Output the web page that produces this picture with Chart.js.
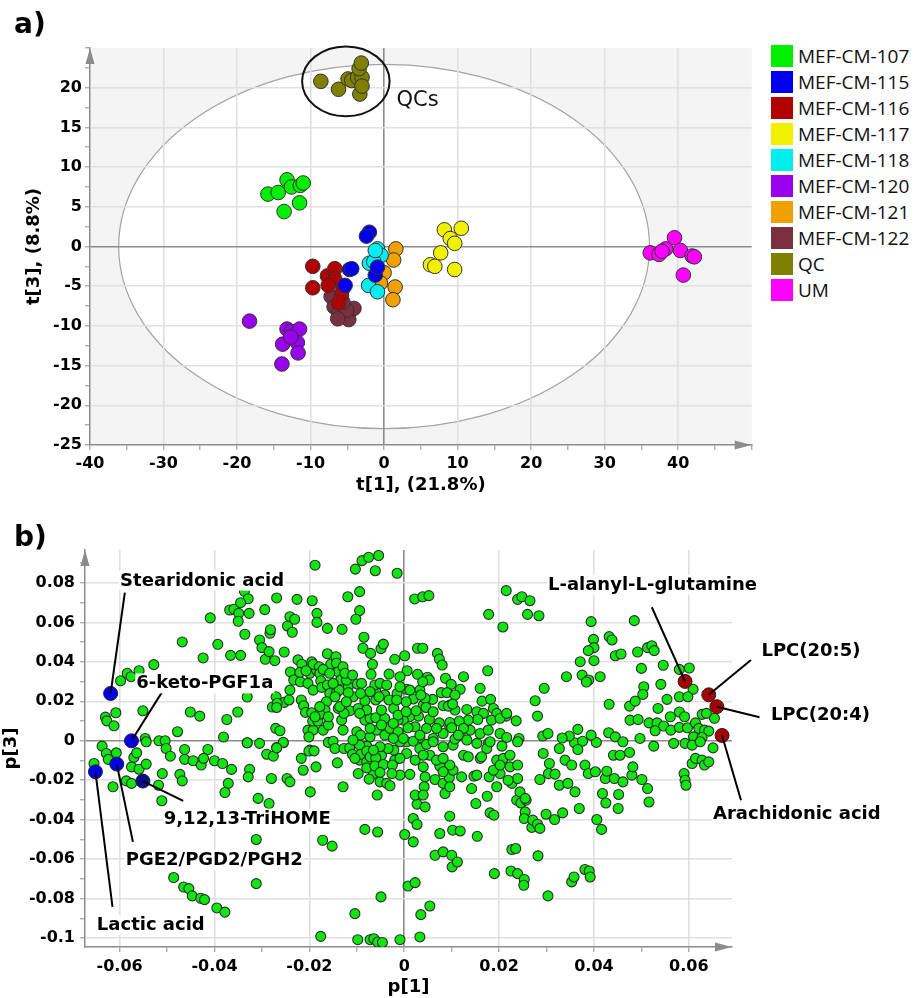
<!DOCTYPE html>
<html>
<head>
<meta charset="utf-8">
<title>PCA scores and loadings</title>
<script src="https://cdn.jsdelivr.net/npm/chart.js@4.4.1/dist/chart.umd.min.js"></script>
<style>
  body { margin: 0; background: #fff; }
  #page { position: relative; width: 917px; height: 998px; overflow: hidden; }
  canvas { position: absolute; left: 0; }
  #scores { top: 0; }
  #loadings { top: 500px; }
  .panel { position: absolute; left: 14px; font: bold 28px "DejaVu Sans"; line-height: 28px; }
  #legend { position: absolute; left: 771px; top: 45px; font: 19px "Open Sans"; color: #111; }
  #legend div { height: 26px; line-height: 22px; white-space: nowrap; }
  #legend span { display: inline-block; width: 22px; height: 22px; vertical-align: top; margin-right: 5px; }
</style>
</head>
<body>
<div id="page">
  <canvas id="scores" width="760" height="500"></canvas>
  <canvas id="loadings" width="917" height="498"></canvas>
  <div class="panel" style="top:10px">a)</div>
  <div class="panel" style="top:523px">b)</div>
  <div id="legend"></div>
</div>
<script>
// ---- a) scores t[1] / t[3] ----
const groupNames = ['MEF-CM-107', 'MEF-CM-115', 'MEF-CM-116', 'MEF-CM-117', 'MEF-CM-118',
                    'MEF-CM-120', 'MEF-CM-121', 'MEF-CM-122', 'QC', 'UM']
const groupColors = ['#00ee00', '#0000ee', '#b00000', '#f0f000', '#00eeee',
                     '#9900ee', '#f0a000', '#7b3040', '#808000', '#ff00ff']

const t107 = [[-15.8, 6.6], [-14.4, 6.8], [-13.2, 8.4], [-12.6, 7.5], [-11.4, 7.7], [-11.0, 8.0], [-11.5, 5.5], [-13.6, 4.4]]
const t115 = [[-2.0, 1.8], [-2.4, 1.3], [-4.7, -2.9], [-4.4, -2.8], [-5.3, -4.9], [-1.2, -3.6], [-0.9, -2.6]]
const t116 = [[-9.7, -2.5], [-9.7, -5.2], [-7.7, -3.7], [-6.7, -2.8], [-6.7, -4.1], [-5.6, -5.3], [-5.8, -6.1], [-6.2, -7.1], [-7.6, -4.9]]
const t117 = [[8.2, 2.1], [10.5, 2.3], [9.0, 1.0], [9.6, 0.4], [7.7, -0.8], [6.3, -2.3], [6.9, -2.5], [9.6, -2.9]]
const t118 = [[-0.9, -0.3], [-0.4, -1.1], [-2.0, -2.1], [-1.4, -1.9], [-2.1, -4.9], [-0.9, -5.7], [-1.2, -0.5]]
const t120 = [[-18.3, -9.4], [-13.2, -10.4], [-12.6, -10.7], [-11.5, -10.4], [-13.8, -12.3], [-11.8, -12.1], [-11.7, -13.4], [-13.9, -14.8], [-12.7, -11.4]]
const t121 = [[1.6, -0.3], [1.3, -1.7], [0.0, -3.3], [-0.5, -4.6], [1.5, -5.1], [1.2, -6.7]]
const t122 = [[-7.2, -6.3], [-6.8, -7.6], [-6.2, -8.4], [-4.8, -9.2], [-4.1, -7.8], [-5.1, -8.0], [-5.6, -7.0], [-6.3, -9.1]]
const tQC = [[-8.6, 20.8], [-6.2, 19.8], [-4.9, 21.1], [-4.4, 20.9], [-3.6, 21.3], [-3.0, 21.3], [-3.4, 22.4], [-3.1, 23.1], [-3.3, 19.2], [-3.0, 20.2]]
const tUM = [[36.2, -0.8], [37.4, -1.0], [38.3, -0.3], [39.5, 1.1], [40.3, -0.5], [41.9, -1.2], [42.2, -1.3], [40.7, -3.6], [37.8, -0.6]]
const scoreGroups = [t107, t115, t116, t117, t118, t120, t121, t122, tQC, tUM]

const hotellingRadius = [36.1, 22.95]   // T2 ellipse semi-axes (t1, t3)
const qcRingCenter = [-5.2, 20.8]
const qcRingRadius = [5.95, 4.4]

// ---- b) loadings p[1] / p[3] ----
const markerNames = ['Stearidonic acid', '6-keto-PGF1a', '9,12,13-TriHOME', 'PGE2/PGD2/PGH2', 'Lactic acid',
                     'L-alanyl-L-glutamine', 'LPC(20:5)', 'LPC(20:4)', 'Arachidonic acid']
const markerP1 = [-0.0619, -0.0575, -0.0551, -0.0606, -0.0651, 0.0592, 0.0642, 0.0659, 0.0670]
const markerP3 = [0.0240, 0.0000, -0.0204, -0.0118, -0.0157, 0.0301, 0.0233, 0.0173, 0.0027]
const markerColors = ['#0000ee', '#0000ee', '#0b0b8e', '#0000ee', '#0000ee', '#a80000', '#a80000', '#a80000', '#a80000']

const otherVariables = [
  [-0.0598,0.0304],[-0.0584,0.0342],[-0.0576,0.0325],[-0.0559,0.0355],[-0.0528,0.0386],
  [-0.0630,0.0120],[-0.0627,0.0101],[-0.0608,0.0142],[-0.0612,0.0076],[-0.0551,0.0152],
  [-0.0546,0.0012],[-0.0517,0.0000],[-0.0504,0.0000],[-0.0478,0.0046],[-0.0468,0.0501],
  [-0.0451,0.0146],[-0.0431,0.0125],[-0.0424,0.0420],[-0.0409,0.0623],[-0.0393,0.0489],
  [-0.0381,0.0019],[-0.0374,0.0108],[-0.0366,0.0433],[-0.0368,0.0663],[-0.0359,0.0667],
  [-0.0337,0.0758],[-0.0329,0.0720],[-0.0345,0.0700],[-0.0349,0.0646],[-0.0327,0.0646],
  [-0.0350,0.0606],[-0.0336,0.0540],[-0.0345,0.0433],[-0.0351,0.0146],[-0.0331,0.0222],
  [-0.0331,-0.0010],[-0.0305,0.0511],[-0.0300,0.0472],[-0.0294,0.0665],[-0.0293,0.0413],
  [-0.0283,0.0545],[-0.0282,0.0563],[-0.0285,0.0452],[-0.0273,0.0406],[-0.0269,0.0724],
  [-0.0270,0.0223],[-0.0278,0.0171],[-0.0253,0.0450],[-0.0253,0.0195],[-0.0246,0.0582],
  [-0.0241,0.0629],[-0.0231,0.0616],[-0.0236,0.0550],[-0.0226,0.0717],[-0.0240,0.0349],
  [-0.0233,0.0308],[-0.0241,0.0257],[-0.0243,0.0207],[-0.0224,0.0410],[-0.0216,0.0388],
  [-0.0219,0.0299],[-0.0217,0.0207],[-0.0212,0.0178],[-0.0208,0.0144],[-0.0188,0.0890],
  [-0.0194,0.0710],[-0.0184,0.0646],[-0.0184,0.0600],[-0.0195,0.0400],[-0.0199,0.0342],
  [-0.0185,0.0359],[-0.0203,0.0291],[-0.0192,0.0257],[-0.0162,0.0570],[-0.0162,0.0441],
  [-0.0131,0.0565],[-0.0119,0.0730],[-0.0103,0.0870],[-0.0089,0.0913],[-0.0075,0.0930],
  [-0.0054,0.0939],[-0.0061,0.0862],[-0.0015,0.0849],[-0.0094,0.0756],[-0.0094,0.0660],
  [-0.0102,0.0616],[-0.0085,0.0525],[-0.0087,0.0469],[-0.0071,0.0443],[-0.0049,0.0467],
  [-0.0044,0.0490],[-0.0067,0.0388],[-0.0070,0.0337],[-0.0020,0.0413],[-0.0032,0.0338],
  [0.0001,0.0431],[0.0006,0.0355],[0.0022,0.0719],[0.0039,0.0730],[0.0052,0.0736],
  [0.0028,0.0469],[0.0039,0.0469],[0.0070,0.0443],[0.0074,0.0414],[0.0080,0.0384],
  [0.0028,0.0337],[0.0049,0.0322],[0.0087,0.0317],
  [0.0215,0.0761],[0.0239,0.0717],[0.0248,0.0730],[0.0265,0.0710],[0.0178,0.0641],
  [0.0208,0.0577],[0.0260,0.0641],[0.0284,0.0634],[0.0394,0.0604],[0.0485,0.0609],
  [0.0399,0.0514],[0.0400,0.0472],[0.0388,0.0457],[0.0432,0.0528],[0.0438,0.0511],
  [0.0445,0.0431],[0.0457,0.0440],[0.0371,0.0401],[0.0400,0.0406],[0.0492,0.0450],
  [0.0513,0.0472],[0.0522,0.0482],[0.0527,0.0457],[0.0342,0.0325],[0.0375,0.0333],
  [0.0389,0.0308],[0.0384,0.0298],[0.0413,0.0325],[0.0500,0.0367],[0.0546,0.0383],
  [0.0580,0.0362],[0.0601,0.0369],[0.0505,0.0274],[0.0503,0.0235],[0.0541,0.0286],
  [0.0609,0.0261],[0.0295,0.0266],[0.0276,0.0203],[0.0281,0.0125],[0.0432,0.0185],
  [0.0475,0.0176],[0.0487,0.0201],[0.0535,0.0164],[0.0554,0.0210],[0.0580,0.0223],
  [0.0598,0.0223],[0.0580,0.0146],[0.0591,0.0122],[0.0561,0.0122],[0.0628,0.0134],
  [0.0637,0.0139],[0.0654,0.0114],[0.0476,0.0105],[0.0493,0.0108],[0.0516,0.0091],
  [0.0533,0.0091],[0.0529,0.0051],[0.0547,0.0075],[0.0562,0.0054],[0.0580,0.0068],
  [0.0597,0.0066],[0.0614,0.0091],[0.0621,0.0063],[0.0633,0.0054],[0.0642,0.0049],
  [0.0610,0.0020],[0.0628,0.0017],[0.0592,-0.0013],[0.0568,-0.0013],[0.0607,-0.0022],
  [0.0624,-0.0005],[0.0359,-0.0010],[0.0376,-0.0002],[0.0405,-0.0008],
  [0.0431,0.0041],[0.0445,0.0020],[0.0461,-0.0005],[0.0497,0.0012],[0.0366,0.0058],
  [0.0394,0.0029],[0.0348,0.0024],[0.0333,0.0014],[0.0292,0.0024],[0.0303,0.0037],
  [0.0242,0.0012],[0.0236,0.0101],
  [0.0053,0.0308],[0.0099,0.0286],[0.0125,0.0325],[0.0118,0.0261],[0.0160,0.0266],
  [0.0176,0.0355],[0.0164,0.0201],[0.0182,0.0210],[0.0078,0.0244],[0.0060,0.0210],
  [0.0019,0.0212],[0.0004,0.0198],[0.0005,0.0261],[0.0033,0.0257],[0.0040,0.0181],
  [0.0082,0.0178],[0.0096,0.0181],[0.0107,0.0156],[0.0132,0.0159],[0.0153,0.0147],
  [0.0167,0.0139],[0.0188,0.0164],[0.0195,0.0139],[0.0215,0.0125],[0.0184,0.0105],
  [0.0155,0.0108],[0.0135,0.0105],[0.0116,0.0100],[0.0096,0.0071],[0.0074,0.0091],
  [0.0053,0.0108],[0.0030,0.0125],[0.0011,0.0122],[-0.0002,0.0105],[0.0023,0.0071],
  [0.0047,0.0063],[0.0082,0.0037],[0.0118,0.0029],[0.0139,0.0054],[0.0160,0.0037],
  [0.0177,0.0054],[0.0202,0.0037],[0.0216,0.0017],[0.0033,0.0017],[0.0061,0.0012],
  [0.0005,-0.0005],[0.0177,-0.0013],
  [-0.0009,-0.0174],[0.0012,-0.0170],[0.0044,-0.0183],[0.0042,-0.0233],[0.0005,-0.0064],
  [0.0023,-0.0098],[0.0040,-0.0132],[0.0054,-0.0073],[0.0065,-0.0196],[0.0075,-0.0128],
  [0.0082,-0.0216],[0.0086,-0.0267],[0.0095,-0.0186],[0.0096,-0.0233],[0.0103,-0.0149],
  [0.0121,-0.0183],[0.0125,-0.0073],[0.0142,-0.0242],[0.0147,-0.0179],[0.0151,-0.0318],
  [0.0154,-0.0484],[0.0160,-0.0089],[0.0174,-0.0039],[0.0175,-0.0281],[0.0179,-0.0183],
  [0.0181,-0.0365],[0.0189,-0.0377],[0.0195,-0.0233],[0.0190,-0.0673],[0.0202,-0.0166],
  [0.0206,-0.0027],[0.0223,-0.0132],[0.0227,-0.0216],[0.0227,-0.0551],[0.0235,-0.0546],
  [0.0225,-0.0660],[0.0239,-0.0673],[0.0253,-0.0703],[0.0252,-0.0732],[0.0237,-0.0301],
  [0.0246,-0.0315],[0.0257,-0.0301],[0.0255,-0.0360],[0.0253,-0.0394],[0.0269,-0.0439],
  [0.0271,-0.0402],[0.0281,-0.0423],[0.0286,-0.0444],[0.0282,-0.0583],[0.0239,-0.0123],
  [0.0239,-0.0191],[0.0286,-0.0196],[0.0293,-0.0064],[0.0304,-0.0166],[0.0306,-0.0115],
  [0.0299,-0.0372],[0.0317,-0.0399],[0.0334,-0.0365],[0.0303,-0.0786],[0.0318,-0.0169],
  [0.0327,-0.0039],[0.0327,-0.0225],[0.0339,-0.0098],[0.0345,-0.0216],[0.0353,-0.0123],
  [0.0360,-0.0259],[0.0366,-0.0044],[0.0369,-0.0343],[0.0353,-0.0715],[0.0358,-0.0690],
  [0.0381,-0.0123],[0.0388,-0.0166],[0.0381,-0.0652],[0.0390,-0.0660],[0.0392,-0.0690],
  [0.0406,-0.0399],[0.0416,-0.0449],[0.0403,-0.0157],[0.0418,-0.0267],[0.0425,-0.0315],
  [0.0424,-0.0191],[0.0427,-0.0154],[0.0441,-0.0073],[0.0443,-0.0191],[0.0452,-0.0272],
  [0.0451,-0.0343],[0.0461,-0.0208],[0.0455,-0.0073],[0.0475,-0.0059],[0.0480,-0.0174],
  [0.0482,-0.0132],[0.0501,-0.0196],[0.0513,-0.0242],[0.0516,-0.0310],[0.0526,-0.0027],
  [0.0590,-0.0166],[0.0592,-0.0200],[0.0594,-0.0225],[0.0607,-0.0115],[0.0614,-0.0089],
  [0.0628,-0.0098],[0.0633,-0.0123],[0.0642,-0.0107],[0.0651,-0.0036],
  [0.0019,-0.0394],[0.0027,-0.0424],[0.0001,-0.0475],[0.0019,-0.0512],[0.0027,-0.0321],
  [0.0044,-0.0335],[0.0075,-0.0470],[0.0096,-0.0382],[0.0102,-0.0453],[0.0118,-0.0457],
  [0.0065,-0.0580],[0.0082,-0.0563],[0.0100,-0.0580],[0.0101,-0.0639],[0.0112,-0.0614],
  [0.0008,-0.0736],[0.0023,-0.0719],[0.0054,-0.0837],[0.0035,-0.0881],[0.0033,-0.0994],
  [-0.0637,-0.0027],[-0.0628,-0.0064],[-0.0624,-0.0094],[-0.0607,-0.0061],[-0.0654,-0.0115],
  [-0.0614,-0.0233],[-0.0586,-0.0203],[-0.0575,-0.0216],[-0.0570,-0.0084],[-0.0564,-0.0061],
  [-0.0575,-0.0132],[-0.0559,-0.0144],[-0.0544,-0.0118],[-0.0544,-0.0005],[-0.0510,-0.0166],
  [-0.0511,-0.0304],[-0.0518,-0.0225],[-0.0502,-0.0039],[-0.0493,-0.0078],[-0.0473,-0.0170],
  [-0.0468,-0.0203],[-0.0463,-0.0044],[-0.0463,-0.0094],[-0.0445,-0.0101],[-0.0428,-0.0123],
  [-0.0414,-0.0044],[-0.0423,-0.0089],[-0.0400,-0.0101],[-0.0383,-0.0115],[-0.0364,-0.0145],
  [-0.0371,-0.0216],[-0.0378,-0.0262],[-0.0331,-0.0010],[-0.0305,-0.0013],[-0.0326,-0.0145],
  [-0.0329,-0.0183],[-0.0308,-0.0292],[-0.0290,-0.0068],[-0.0276,-0.0078],[-0.0280,-0.0191],
  [-0.0285,-0.0318],[-0.0269,-0.0034],[-0.0255,-0.0010],[-0.0247,-0.0191],[-0.0241,-0.0208],
  [-0.0312,-0.0500],[-0.0312,-0.0724],[-0.0486,-0.0693],[-0.0465,-0.0741],[-0.0454,-0.0749],
  [-0.0447,-0.0786],[-0.0429,-0.0798],[-0.0421,-0.0805],[-0.0395,-0.0847],[-0.0378,-0.0868],
  [-0.0217,-0.0089],[-0.0213,-0.0149],[-0.0199,-0.0047],[-0.0186,-0.0132],[-0.0198,-0.0259],
  [-0.0172,-0.0504],[-0.0152,-0.0534],[-0.0176,-0.0991],[-0.0141,-0.0112],[-0.0129,-0.0233],
  [-0.0097,-0.0166],[-0.0083,-0.0449],[-0.0056,-0.0462],[-0.0057,-0.0275],[-0.0049,-0.0791],
  [-0.0104,-0.0876],[-0.0098,-0.1008],[-0.0072,-0.1008],[-0.0064,-0.1003],[-0.0056,-0.1020],
  [-0.0046,-0.1022],[-0.0009,-0.1008],
  [-0.0094,-0.0098],[-0.0065,-0.0166],[-0.0051,-0.0208],[-0.0020,-0.0098],[-0.0048,-0.0073],
  [-0.0079,-0.0027],
  [-0.0271,0.0063],[-0.0262,0.0051],[-0.0255,-0.0008],[-0.0269,-0.0036],[-0.0201,-0.0052],
  [-0.0190,-0.0051],[-0.0160,-0.0008],[-0.0150,-0.0002],[-0.0146,-0.0039],[-0.0127,-0.0039],
  [-0.0115,-0.0036],[-0.0109,-0.0069],[-0.0094,-0.0022],[-0.0092,-0.0069],[-0.0079,-0.0052],
  [-0.0079,-0.0107],[-0.0072,-0.0081],[-0.0079,-0.0137],[-0.0060,-0.0086],[-0.0062,-0.0128],
  [-0.0044,-0.0120],[-0.0051,-0.0160],[-0.0025,-0.0123],[-0.0026,-0.0166],[-0.0037,-0.0216],
  [-0.0030,-0.0228],[-0.0074,-0.0194],[-0.0129,0.0054],[-0.0100,0.0046],[-0.0092,0.0029],
  [-0.0072,0.0020],[-0.0108,0.0004],[-0.0058,0.0054],[-0.0041,0.0029],[-0.0030,0.0063],
  [-0.0013,0.0046],[-0.0009,-0.0005],[-0.0022,-0.0047],[-0.0009,-0.0089],[-0.0034,-0.0039],
  [-0.0051,-0.0030],[-0.0083,0.0105],[-0.0072,0.0114],[-0.0060,0.0117],[-0.0041,0.0114],
  [-0.0013,0.0105],[-0.0203,0.0054],[-0.0192,0.0054],[-0.0171,0.0054],[-0.0193,0.0100],
  [-0.0182,0.0100],[-0.0160,0.0080],[-0.0132,0.0105],
  [-0.0192,0.0388],[-0.0179,0.0375],[-0.0155,0.0388],[-0.0144,0.0426],[-0.0143,0.0393],
  [-0.0139,0.0350],[-0.0220,0.0347],[-0.0207,0.0355],[-0.0178,0.0342],[-0.0171,0.0362],
  [-0.0157,0.0342],[-0.0176,0.0304],[-0.0174,0.0271],[-0.0162,0.0283],[-0.0157,0.0240],
  [-0.0143,0.0244],[-0.0134,0.0308],[-0.0137,0.0257],[-0.0118,0.0274],[-0.0108,0.0223],
  [-0.0099,0.0288],[-0.0115,0.0152],[-0.0097,0.0164],[-0.0083,0.0203],[-0.0079,0.0156],
  [-0.0060,0.0207],[-0.0060,0.0249],[-0.0048,0.0156],[-0.0041,0.0232],[-0.0032,0.0207],
  [-0.0022,0.0164],[-0.0015,0.0240],[-0.0013,0.0130],[-0.0164,0.0198],[-0.0167,0.0156],
  [-0.0146,0.0223],[-0.0139,0.0164],[-0.0127,0.0139],[-0.0195,0.0142],[-0.0178,0.0135],
  [-0.0268,0.0190],[-0.0269,0.0169],
  [0.0039,0.0299],[0.0044,0.0215],[0.0035,0.0232],[0.0090,0.0244],[0.0107,0.0232],
  [0.0093,0.0176],[0.0102,0.0186],[0.0004,0.0147],[0.0025,0.0152],[0.0046,0.0169],
  [0.0061,0.0147],
  [0.0096,0.0093],[0.0202,0.0114],[0.0008,0.0066],[0.0068,0.0063],[0.0100,0.0066],
  [0.0125,0.0063],[-0.0002,0.0012],[0.0019,-0.0002],[0.0033,-0.0039],[0.0047,-0.0018],
  [0.0061,-0.0005],[0.0082,-0.0030],[0.0103,-0.0022],[0.0107,0.0009],[0.0132,0.0004],
  [0.0153,-0.0013],[0.0040,-0.0073],[0.0068,-0.0098],[0.0096,-0.0123],[0.0135,-0.0081],
  [0.0195,-0.0098],[0.0209,-0.0089],[0.0223,-0.0073],[0.0082,-0.0157],[0.0188,-0.0149],
  [0.0219,-0.0200],[0.0023,-0.0275],[0.0040,-0.0275],[0.0244,-0.0259],
  [-0.0122,0.0308],[-0.0129,0.0375],[-0.0118,0.0244],[-0.0136,0.0173],[-0.0092,0.0240],
  [-0.0094,0.0139],[-0.0062,0.0283],[-0.0053,0.0223],[-0.0016,0.0207],[0.0012,0.0257],
  [-0.0023,0.0088],[-0.0178,0.0173],[-0.0188,0.0122],[-0.0160,0.0122],[-0.0201,0.0020],
  [0.0082,-0.0089],[0.0163,-0.0081],[0.0033,0.0029],[0.0114,0.0029],[0.0153,-0.0174],
  [0.0202,-0.0123],[0.0255,-0.0292],[0.0181,-0.0005],[0.0239,-0.0005],
  [-0.0072,0.0063],[-0.0048,0.0080],[-0.0023,0.0012],[-0.0104,-0.0089],[-0.0065,-0.0047],
  [-0.0122,0.0198],[-0.0072,0.0249],[-0.0150,0.0291],[-0.0125,0.0342],[-0.0109,0.0333],
  [-0.0090,0.0291],[-0.0051,0.0291],[-0.0037,0.0283],[-0.0009,0.0325],[-0.0009,0.0274],
  [0.0216,0.0139]
]

// where each marker label sits (text left / vertical centre) and where its leader line starts, in p1/p3 units
const markerLabelLayout = [
  { text: [-0.0599, 0.0820], line: [-0.0589, 0.0751] },
  { text: [-0.0565, 0.0299], line: [-0.0508, 0.0257] },
  { text: [-0.0507, -0.0386], line: [-0.0466, -0.0304] },
  { text: [-0.0587, -0.0597], line: [-0.0572, -0.0512] },
  { text: [-0.0648, -0.0926], line: [-0.0615, -0.0842] },
  { text: [0.0303, 0.0799], line: [0.0522, 0.0677] },
  { text: [0.0753, 0.0465], line: [0.0731, 0.0409] },
  { text: [0.0773, 0.0139], line: [0.0749, 0.0119] },
  { text: [0.0651, -0.0363], line: [0.0710, -0.0301] }
]

const tickFont = { family: 'DejaVu Sans', size: 16, weight: 'bold' }
const titleFont = { family: 'DejaVu Sans', size: 18, weight: 'bold' }
const axisGrey = '#8c8c8c'
const gridGrey = '#e0e0e0'

function toPoints(pairs) {
    return pairs.map(p => ({ x: p[0], y: p[1] }))
}

function drawArrows(chart) {
    var ctx = chart.ctx
    var a = chart.chartArea
    ctx.save()
    ctx.fillStyle = axisGrey
    ctx.beginPath()
    ctx.moveTo(a.left, a.top)
    ctx.lineTo(a.left - 4.5, a.top + 16)
    ctx.lineTo(a.left + 4.5, a.top + 16)
    ctx.closePath()
    ctx.fill()
    ctx.beginPath()
    ctx.moveTo(a.right, a.bottom)
    ctx.lineTo(a.right - 17, a.bottom - 4.5)
    ctx.lineTo(a.right - 17, a.bottom + 4.5)
    ctx.closePath()
    ctx.fill()
    ctx.restore()
}

// legend for a)
var legend = document.getElementById('legend')
for (var i = 0; i < groupNames.length; i++) {
    var row = document.createElement('div')
    var box = document.createElement('span')
    box.style.background = groupColors[i]
    row.append(box)
    row.append(groupNames[i])
    legend.append(row)
}

const scoresDecor = {
    id: 'scoresDecor',
    beforeDraw(chart) {
        var ctx = chart.ctx
        var a = chart.chartArea
        var x = chart.scales.x, y = chart.scales.y
        ctx.save()
        ctx.fillStyle = '#f4f4f4'
        ctx.fillRect(a.left, a.top, a.right - a.left, a.bottom - a.top)
        ctx.beginPath()
        ctx.rect(a.left, a.top, a.right - a.left, a.bottom - a.top)
        ctx.clip()
        var cx = x.getPixelForValue(0), cy = y.getPixelForValue(0)
        ctx.beginPath()
        ctx.ellipse(cx, cy, x.getPixelForValue(hotellingRadius[0]) - cx, cy - y.getPixelForValue(hotellingRadius[1]), 0, 0, Math.PI * 2)
        ctx.fillStyle = '#fff'
        ctx.fill()
        ctx.strokeStyle = '#a4a4a4'
        ctx.lineWidth = 1.2
        ctx.stroke()
        ctx.restore()
    },
    afterDatasetsDraw(chart) {
        var ctx = chart.ctx
        var x = chart.scales.x, y = chart.scales.y
        var cx = x.getPixelForValue(qcRingCenter[0]), cy = y.getPixelForValue(qcRingCenter[1])
        ctx.save()
        ctx.beginPath()
        ctx.ellipse(cx, cy, x.getPixelForValue(qcRingCenter[0] + qcRingRadius[0]) - cx,
                    cy - y.getPixelForValue(qcRingCenter[1] + qcRingRadius[1]), 0, 0, Math.PI * 2)
        ctx.strokeStyle = '#111'
        ctx.lineWidth = 2
        ctx.stroke()
        ctx.fillStyle = '#111'
        ctx.font = '21px "DejaVu Sans"'
        ctx.fillText('QCs', x.getPixelForValue(1.7), y.getPixelForValue(18.65) + 7.7)
        ctx.restore()
    },
    afterDraw: drawArrows
}

const loadingsDecor = {
    id: 'loadingsDecor',
    afterDatasetsDraw(chart) {
        var ctx = chart.ctx
        var x = chart.scales.x, y = chart.scales.y
        ctx.save()
        ctx.strokeStyle = '#000'
        ctx.lineWidth = 2
        for (var i = 0; i < markerNames.length; i++) {
            var l = markerLabelLayout[i]
            ctx.beginPath()
            ctx.moveTo(x.getPixelForValue(l.line[0]), y.getPixelForValue(l.line[1]))
            ctx.lineTo(x.getPixelForValue(markerP1[i]), y.getPixelForValue(markerP3[i]))
            ctx.stroke()
        }
        ctx.font = 'bold 18px "DejaVu Sans"'
        for (var i = 0; i < markerNames.length; i++) {
            var l = markerLabelLayout[i]
            var tx = x.getPixelForValue(l.text[0])
            var base = y.getPixelForValue(l.text[1]) + 6.6
            var w = ctx.measureText(markerNames[i]).width
            ctx.fillStyle = '#fff'
            ctx.fillRect(tx - 1, base - 15, w + 2, 20)
            ctx.fillStyle = '#000'
            ctx.fillText(markerNames[i], tx, base)
        }
        ctx.restore()
    },
    afterDraw: drawArrows
}

function isEdge(v, lo, hi) {
    return Math.abs(v - lo) < 1e-9 || Math.abs(v - hi) < 1e-9
}

// a) scores chart
new Chart(document.getElementById('scores'), {
    type: 'scatter',
    data: {
        datasets: scoreGroups.map((g, i) => ({
            label: groupNames[i],
            data: toPoints(g),
            backgroundColor: groupColors[i],
            borderColor: '#333',
            borderWidth: 1,
            pointRadius: 7.3,
            pointHoverRadius: 7.3
        }))
    },
    options: {
        responsive: false,
        animation: false,
        devicePixelRatio: 1,
        events: [],
        layout: { padding: { left: 0, top: 48, right: 3, bottom: 0 } },
        plugins: { legend: { display: false }, tooltip: { enabled: false } },
        scales: {
            x: {
                type: 'linear', min: -40, max: 50,
                afterFit: s => { s.height = 55 },
                ticks: {
                    stepSize: 5, autoSkip: false, maxRotation: 0, padding: 4, color: '#000', font: tickFont,
                    callback: v => (v % 10 === 0 && v < 50) ? String(v) : ''
                },
                grid: {
                    color: c => c.tick.value === 0 ? axisGrey : (c.tick.value % 10 === 0 && !isEdge(c.tick.value, -40, 50) ? gridGrey : 'rgba(0,0,0,0)'),
                    lineWidth: 1.6, tickColor: axisGrey, tickLength: 5, tickWidth: 1
                },
                border: { color: axisGrey, width: 1.5 },
                title: { display: true, text: 't[1], (21.8%)', color: '#000', font: titleFont, padding: { top: 0, bottom: 4 } }
            },
            y: {
                type: 'linear', min: -25, max: 25,
                afterFit: s => { s.width = 90 },
                ticks: {
                    stepSize: 2.5, autoSkip: false, padding: 3, color: '#000', font: tickFont,
                    callback: v => (v % 5 === 0 && v < 25) ? String(v) : ''
                },
                grid: {
                    color: c => c.tick.value === 0 ? axisGrey : (c.tick.value % 5 === 0 && !isEdge(c.tick.value, -25, 25) ? gridGrey : 'rgba(0,0,0,0)'),
                    lineWidth: 1.6, tickColor: axisGrey, tickLength: 5, tickWidth: 1
                },
                border: { color: axisGrey, width: 1.5 },
                title: { display: true, text: 't[3], (8.8%)', color: '#000', font: titleFont, padding: { top: 24, bottom: 0 } }
            }
        }
    },
    plugins: [scoresDecor]
})

function hundredths(v) {
    return Math.round(v * 100)
}

// b) loadings chart
new Chart(document.getElementById('loadings'), {
    type: 'scatter',
    data: {
        datasets: [{
            label: 'marked',
            data: markerP1.map((v, i) => ({ x: v, y: markerP3[i] })),
            backgroundColor: markerColors,
            borderColor: '#222',
            borderWidth: 1,
            pointRadius: 7,
            pointHoverRadius: 7
        }, {
            label: 'variables',
            data: toPoints(otherVariables),
            backgroundColor: '#0ee60e',
            borderColor: '#2d2d2d',
            borderWidth: 1.1,
            pointRadius: 5,
            pointHoverRadius: 5
        }]
    },
    options: {
        responsive: false,
        animation: false,
        devicePixelRatio: 1,
        events: [],
        layout: { padding: { left: 0, top: 50, right: 185, bottom: 0 } },
        plugins: { legend: { display: false }, tooltip: { enabled: false } },
        scales: {
            x: {
                type: 'linear', min: -0.0673, max: 0.0691,
                afterFit: s => { s.height = 51 },
                ticks: {
                    stepSize: 0.01, includeBounds: false, autoSkip: false, maxRotation: 0, padding: 5, color: '#000', font: tickFont,
                    callback: v => { var k = hundredths(v); return k % 2 === 0 ? (k === 0 ? '0' : String(k / 100)) : '' }
                },
                grid: {
                    color: c => { var k = hundredths(c.tick.value); return k === 0 ? axisGrey : (k % 2 === 0 ? gridGrey : 'rgba(0,0,0,0)') },
                    lineWidth: 1.6, tickColor: axisGrey, tickLength: 5, tickWidth: 1
                },
                border: { color: axisGrey, width: 1.5 },
                title: { display: true, text: 'p[1]', color: '#000', font: titleFont, padding: { top: 0, bottom: 0 } }
            },
            y: {
                type: 'linear', min: -0.1045, max: 0.0967,
                afterFit: s => { s.width = 85 },
                ticks: {
                    stepSize: 0.01, includeBounds: false, autoSkip: false, padding: 5, color: '#000', font: tickFont,
                    callback: v => { var k = hundredths(v); return k % 2 === 0 ? (k === 0 ? '0' : String(k / 100)) : '' }
                },
                grid: {
                    color: c => { var k = hundredths(c.tick.value); return k === 0 ? axisGrey : (k % 2 === 0 ? gridGrey : 'rgba(0,0,0,0)') },
                    lineWidth: 1.6, tickColor: axisGrey, tickLength: 5, tickWidth: 1
                },
                border: { color: axisGrey, width: 1.5 },
                title: { display: true, text: 'p[3]', color: '#000', font: titleFont, padding: { top: 1, bottom: 0 } }
            }
        }
    },
    plugins: [loadingsDecor]
})
</script>
</body>
</html>
